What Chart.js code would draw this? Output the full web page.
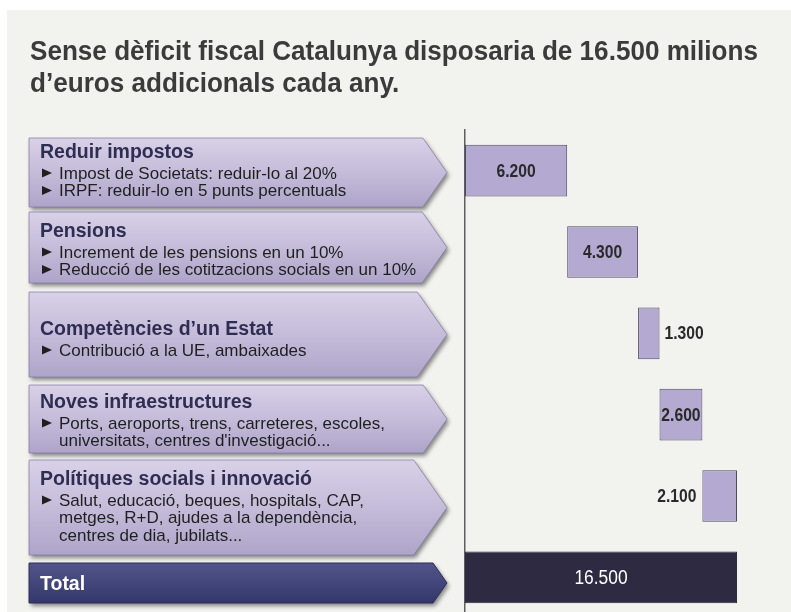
<!DOCTYPE html>
<html>
<head>
<meta charset="utf-8">
<script src="https://cdn.jsdelivr.net/npm/chart.js@4.4.1/dist/chart.umd.min.js"></script>
<style>
html, body { margin: 0; padding: 0; background: #fff; overflow: hidden; }
canvas { display: block; }
</style>
</head>
<body>
<canvas id="myChart" width="791" height="618"></canvas>
<script>
var titleLines = ['Sense dèficit fiscal Catalunya disposaria de 16.500 milions', 'd’euros addicionals cada any.'];
var categories = ['Reduir impostos', 'Pensions', 'Competències d’un Estat', 'Noves infraestructures', 'Polítiques socials i innovació', 'Total'];
var details = [
    ['Impost de Societats: reduir-lo al 20%', 'IRPF: reduir-lo en 5 punts percentuals'],
    ['Increment de les pensions en un 10%', 'Reducció de les cotitzacions socials en un 10%'],
    ['Contribució a la UE, ambaixades'],
    ['Ports, aeroports, trens, carreteres, escoles,\nuniversitats, centres d\'investigació...'],
    ['Salut, educació, beques, hospitals, CAP,\nmetges, R+D, ajudes a la dependència,\ncentres de dia, jubilats...'],
    []
];
var amounts = [6200, 4300, 1300, 2600, 2100];
var total = 16500;

// where each value label sits relative to its bar
var labelPlace = ['in', 'in', 'right', 'in', 'left', 'in'];
// arrow boxes on the left: [top, bottom, heading baseline]
var panelBoxes = [[138, 207, 158], [212, 283, 237], [292, 377, 335], [385, 453, 408], [460, 555, 485], [563, 603, 590]];

// waterfall: each step starts where the previous one ended
var floating = [];
var run = 0;
amounts.forEach(function (a) {
    floating.push([run, run + a]);
    run += a;
});
floating.push([0, total]);

var barColors = amounts.map(function () { return '#b4a9d0'; }).concat(['#2d2a42']);
var barBorders = amounts.map(function () { return '#4f4b60'; }).concat(['#2d2a42']);

function fmt(v) {
    return String(v).replace(/\B(?=(\d{3})+(?!\d))/g, '.');
}

var backdrop = {
    id: 'backdrop',
    beforeDraw: function (chart) {
        var c = chart.ctx;
        c.save();
        c.fillStyle = '#ffffff';
        c.fillRect(0, 0, chart.width, chart.height);
        c.fillStyle = '#f2f3ef';
        c.fillRect(7, 10, chart.width - 7, chart.height - 10);

        // title, squeezed like a narrow face
        c.fillStyle = '#3b3b3b';
        c.font = 'bold 28px "Liberation Sans", Arial, sans-serif';
        c.textBaseline = 'alphabetic';
        var sx = 728 / c.measureText(titleLines[0]).width;
        titleLines.forEach(function (t, i) {
            c.save();
            c.translate(30, 60 + i * 32);
            c.scale(sx, 1);
            c.fillText(t, 0, 0);
            c.restore();
        });
        c.restore();
    }
};

var panels = {
    id: 'panels',
    afterDraw: function (chart) {
        var c = chart.ctx;
        panelBoxes.forEach(function (b, i) {
            var top = b[0], bottom = b[1];
            var mid = (top + bottom) / 2;
            var tip = 447, left = 29;
            var rectEnd = tip - (bottom - top) / 2 * 0.7;
            var isTotal = i === categories.length - 1;

            c.save();
            c.beginPath();
            c.moveTo(left, top);
            c.lineTo(rectEnd, top);
            c.lineTo(tip, mid);
            c.lineTo(rectEnd, bottom);
            c.lineTo(left, bottom);
            c.closePath();
            var g = c.createLinearGradient(0, top, 0, bottom);
            if (isTotal) {
                g.addColorStop(0, '#51558a');
                g.addColorStop(1, '#34376a');
            } else {
                g.addColorStop(0, '#d8d1e7');
                g.addColorStop(0.5, '#c5bcda');
                g.addColorStop(1, '#aea4c9');
            }
            c.shadowColor = 'rgba(0,0,0,0.45)';
            c.shadowBlur = 4;
            c.shadowOffsetX = 2;
            c.shadowOffsetY = 3;
            c.fillStyle = g;
            c.fill();
            c.shadowColor = 'transparent';
            c.strokeStyle = isTotal ? '#2c2e58' : 'rgba(130,120,160,0.7)';
            c.lineWidth = 1;
            c.stroke();
            c.restore();

            // heading + bullet lines
            c.save();
            c.textBaseline = 'alphabetic';
            c.textAlign = 'left';
            var y = b[2];
            c.font = 'bold 19.5px "Liberation Sans", Arial, sans-serif';
            c.fillStyle = isTotal ? '#ffffff' : '#2f2e52';
            c.fillText(categories[i], 40, y);
            y += 20.5;
            c.font = '17px "Liberation Sans", Arial, sans-serif';
            c.fillStyle = '#1f1f1f';
            details[i].forEach(function (item) {
                item.split('\n').forEach(function (line, k) {
                    if (k === 0) {
                        c.beginPath();
                        c.moveTo(42, y - 10);
                        c.lineTo(42, y - 1);
                        c.lineTo(52, y - 5.5);
                        c.closePath();
                        c.fill();
                    }
                    c.fillText(line, 59, y);
                    y += 17.5;
                });
            });
            c.restore();
        });
    }
};

var valueLabels = {
    id: 'valueLabels',
    afterDatasetsDraw: function (chart) {
        var c = chart.ctx;
        var meta = chart.getDatasetMeta(0);
        meta.data.forEach(function (el, i) {
            var left = Math.min(el.x, el.base), right = Math.max(el.x, el.base);
            var d = chart.data.datasets[0].data[i];
            var txt = fmt(d[1] - d[0]);
            var isTotal = i === meta.data.length - 1;
            var x, align;
            if (labelPlace[i] === 'right') { x = right + 5; align = 'left'; }
            else if (labelPlace[i] === 'left') { x = left - 6; align = 'right'; }
            else { x = (left + right) / 2; align = 'center'; }
            c.save();
            c.font = isTotal ? '20px "Liberation Sans", Arial, sans-serif' : 'bold 18px "Liberation Sans", Arial, sans-serif';
            c.fillStyle = isTotal ? '#ffffff' : '#2a2a2a';
            c.textAlign = align;
            c.textBaseline = 'middle';
            c.translate(x, el.y + 1);
            c.scale(0.87, 1);
            c.fillText(txt, 0, 0);
            c.restore();
        });
    }
};

var ctx = document.getElementById('myChart').getContext('2d');
var myChart = new Chart(ctx, {
    type: 'bar',
    data: {
        labels: categories,
        datasets: [{
            data: floating,
            backgroundColor: barColors,
            borderColor: barBorders,
            borderWidth: 1,
            borderSkipped: false,
            barPercentage: 0.635,
            categoryPercentage: 1
        }]
    },
    options: {
        indexAxis: 'y',
        responsive: false,
        animation: false,
        devicePixelRatio: 1,
        layout: { padding: { left: 465, right: 54, top: 130, bottom: 0 } },
        plugins: {
            legend: { display: false },
            tooltip: { enabled: false }
        },
        scales: {
            x: { display: false, min: 0, max: total },
            y: {
                grid: { display: false, drawTicks: false },
                ticks: { display: false },
                border: { display: true, color: '#5e5e5e', width: 1.5 },
                afterFit: function (s) { s.width = 0; }
            }
        }
    },
    plugins: [backdrop, panels, valueLabels]
});
</script>
</body>
</html>
